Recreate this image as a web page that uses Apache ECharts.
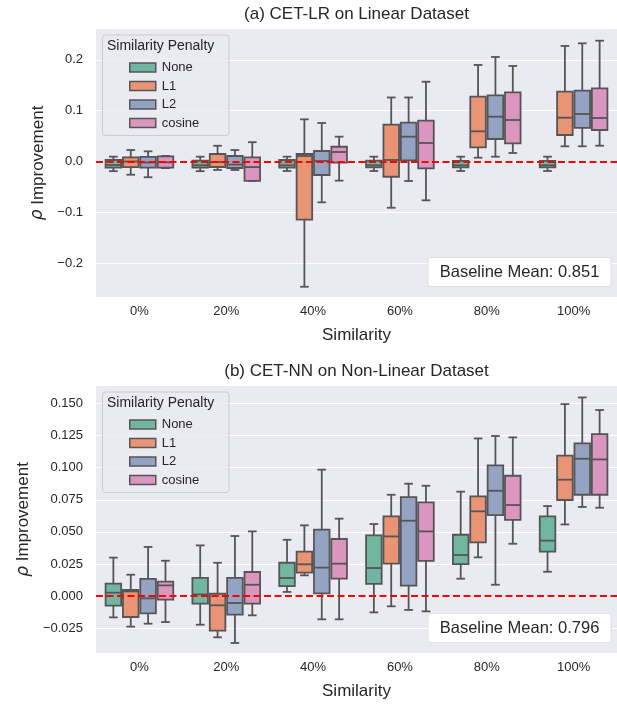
<!DOCTYPE html>
<html><head><meta charset="utf-8">
<script src="https://cdn.jsdelivr.net/npm/echarts@6/dist/echarts.min.js"></script>
<style>html,body{margin:0;padding:0;background:#fff}#c{width:617px;height:704px}</style>
</head><body><div id="c"></div>
<script>
// ---------- data ----------
const categories = ['0%', '20%', '40%', '60%', '80%', '100%'];
const penalties = ['None', 'L1', 'L2', 'cosine'];
// each box: [low whisker, q1, median, q3, high whisker]
// (a) CET-LR on Linear Dataset
const lrNone = [[-0.019,-0.012,-0.007,0.003,0.0095],[-0.019,-0.012,-0.0075,0.0016,0.0095],[-0.0187,-0.012,-0.0075,0.003,0.0095],[-0.0187,-0.0115,-0.0075,0.0016,0.0095],[-0.0187,-0.0115,-0.0075,0.0013,0.0095],[-0.0187,-0.0115,-0.0075,0.0013,0.0095]];
const lrL1 = [[-0.026,-0.011,0.0,0.008,0.0226],[-0.0167,-0.0108,-0.001,0.0148,0.031],[-0.2465,-0.1145,0.0108,0.0148,0.083],[-0.091,-0.030,0.003,0.0725,0.126],[0.0075,0.0279,0.0594,0.1276,0.19],[0.0299,0.0522,0.0862,0.1374,0.2274]];
const lrL2 = [[-0.031,-0.012,-0.002,0.009,0.020],[-0.0167,-0.0128,-0.006,0.0108,0.0226],[-0.0804,-0.0266,0.001,0.0207,0.0758],[-0.0384,0.0023,0.0489,0.0764,0.126],[0.0095,0.0443,0.0882,0.1302,0.2057],[0.0299,0.066,0.0935,0.1394,0.2326]];
const lrCos = [[-0.013,-0.012,-0.0016,0.010,0.011],[-0.038,-0.038,-0.011,0.008,0.038],[-0.0377,-0.0023,0.0187,0.029,0.0489],[-0.0764,-0.0134,0.0364,0.0803,0.157],[0.0167,0.0358,0.0817,0.136,0.188],[0.0311,0.062,0.0856,0.144,0.2378]];
// (b) CET-NN on Non-Linear Dataset
const nnNone = [[-0.0165,-0.0074,0.0027,0.0097,0.030],[-0.0222,-0.0058,0.0014,0.0142,0.0395],[0.0033,0.0079,0.0141,0.026,0.0439],[-0.0126,0.0095,0.0219,0.0473,0.0561],[0.0136,0.025,0.032,0.0478,0.0813],[0.019,0.0346,0.0432,0.0621,0.0701]];
const nnL1 = [[-0.0237,-0.0162,0.0037,0.0048,0.0167],[-0.032,-0.0268,-0.0071,0.0019,0.026],[0.0162,0.0183,0.0248,0.0346,0.0551],[-0.0079,0.0253,0.0465,0.0621,0.0789],[0.0302,0.0418,0.066,0.0776,0.1227],[0.0558,0.0748,0.0906,0.1093,0.1494]];
const nnL2 = [[-0.0214,-0.0134,-0.0017,0.0134,0.0383],[-0.0364,-0.0144,-0.0053,0.0142,0.0468],[-0.018,0.0022,0.0222,0.0517,0.0984],[-0.0107,0.0082,0.0587,0.0771,0.0875],[0.0089,0.0631,0.082,0.1017,0.1246],[0.0694,0.0789,0.1069,0.1188,0.1546]];
const nnCos = [[-0.0201,-0.0027,0.0084,0.0113,0.0276],[-0.0149,-0.0058,0.0089,0.0188,0.0504],[-0.018,0.0136,0.0253,0.0445,0.0603],[-0.0118,0.0274,0.0504,0.0729,0.0859],[0.0408,0.0593,0.0709,0.0937,0.1235],[0.0688,0.0789,0.1064,0.1261,0.1448]];
const ticksA = [-0.2, -0.1, 0.0, 0.1, 0.2];
const ticksB = [-0.025, 0.0, 0.025, 0.05, 0.075, 0.1, 0.125, 0.15];
const baselineA = 'Baseline Mean: 0.851';
const baselineB = 'Baseline Mean: 0.796';
// ---------- style ----------
const colors = ['#71b6a1', '#e99575', '#95a3c3', '#db96c0'];
const edge = '#555555';
const txt = '#262626';
const FF = 'Liberation Sans, Arial, sans-serif';

function renderFor(h) {
  return function (params, api) {
    const ci = api.value(0);
    const bw = api.size([1, 0])[0];
    const w = bw * 0.8 / 4;
    const cx = api.coord([ci, 0])[0] + (h - 1.5) * w;
    const yLo = api.coord([ci, api.value(1)])[1];
    const yQ1 = api.coord([ci, api.value(2)])[1];
    const yMd = api.coord([ci, api.value(3)])[1];
    const yQ3 = api.coord([ci, api.value(4)])[1];
    const yHi = api.coord([ci, api.value(5)])[1];
    const ls = { stroke: edge, lineWidth: 1.8, fill: null };
    const cw = w * 0.5;
    const bx = cx - w / 2 + 0.9, bwid = w - 1.8;
    return { type: 'group', children: [
      { type: 'line', shape: { x1: cx, y1: yQ3, x2: cx, y2: yHi }, style: ls },
      { type: 'line', shape: { x1: cx, y1: yQ1, x2: cx, y2: yLo }, style: ls },
      { type: 'line', shape: { x1: cx - cw / 2, y1: yHi, x2: cx + cw / 2, y2: yHi }, style: ls },
      { type: 'line', shape: { x1: cx - cw / 2, y1: yLo, x2: cx + cw / 2, y2: yLo }, style: ls },
      { type: 'rect', shape: { x: bx, y: Math.min(yQ1, yQ3), width: bwid, height: Math.abs(yQ1 - yQ3) }, style: { fill: colors[h], stroke: edge, lineWidth: 1.8 } },
      { type: 'line', shape: { x1: bx, y1: yMd, x2: bx + bwid, y2: yMd }, style: ls }
    ]};
  };
}
function toData(arr) { return arr.map((b, i) => [i].concat(b)); }
const redLine = { silent: true, symbol: 'none', label: { show: false }, lineStyle: { color: '#ff0000', type: [7, 3.5], width: 2 }, data: [{ yAxis: 0 }] };

const sets = [[lrNone, lrL1, lrL2, lrCos], [nnNone, nnL1, nnL2, nnCos]];
const series = [];
sets.forEach((set, g) => {
  set.forEach((arr, h) => {
    const s = {
      type: 'custom', name: penalties[h], xAxisIndex: g, yAxisIndex: g,
      renderItem: renderFor(h), data: toData(arr),
      encode: { x: 0, y: [1, 2, 3, 4, 5] },
      itemStyle: { color: colors[h], borderColor: edge, borderWidth: 1.5 }, z: 2
    };
    if (h === 0) s.markLine = redLine;
    series.push(s);
  });
});

function fmt(dec) { return v => (+v).toFixed(dec).replace('-', '\u2212'); }
function yAxis(g, min, max, ticks, dec) {
  return {
    type: 'value', gridIndex: g, min: min, max: max,
    name: '{i|ρ} Improvement', nameLocation: 'middle', nameGap: g === 0 ? 45 : 47,
    nameTextStyle: { color: txt, fontSize: 17, fontFamily: FF, rich: { i: { fontStyle: 'italic', fontSize: 17, fontFamily: 'DejaVu Sans', color: txt } } },
    axisLine: { show: false }, axisTick: { show: false, customValues: ticks },
    axisLabel: { customValues: ticks, formatter: fmt(dec), color: txt, fontSize: 13, fontFamily: FF, margin: 13 },
    splitLine: { show: true, lineStyle: { color: '#ffffff', width: 1.2 } }
  };
}
function xAxis(g) {
  return {
    type: 'category', gridIndex: g, data: categories,
    name: 'Similarity', nameLocation: 'middle', nameGap: 30,
    nameTextStyle: { color: txt, fontSize: 17, fontFamily: FF },
    axisLine: { show: false }, axisTick: { show: false },
    axisLabel: { color: txt, fontSize: 13, fontFamily: FF, margin: 8 },
    splitLine: { show: false }
  };
}
function legend(top) {
  return {
    orient: 'vertical', left: 129, top: top, padding: 0, itemWidth: 26, itemHeight: 9, itemGap: 5.5,
    icon: 'rect', selectedMode: false,
    textStyle: { color: txt, fontSize: 13, fontFamily: FF, padding: [0, 0, 0, 1] },
    data: penalties.map((p, h) => ({ name: p, itemStyle: { color: colors[h], borderColor: edge, borderWidth: 1.5 } }))
  };
}
function legendFrame(y) {
  return [
    { type: 'rect', z: 3, shape: { x: 102.5, y: y, width: 126.5, height: 100.5, r: 3 }, style: { fill: 'rgba(234,234,242,0.8)', stroke: '#cccccc', lineWidth: 1 } },
    { type: 'text', z: 4, x: 107, y: y + 11.5, style: { text: 'Similarity Penalty', fill: txt, font: '14px ' + FF, verticalAlign: 'middle' } }
  ];
}
function baseBox(y, text) {
  return [
    { type: 'rect', z: 3, shape: { x: 428, y: y, width: 183, height: 29, r: 2 }, style: { fill: '#ffffff', stroke: '#e0e0e0', lineWidth: 1 } },
    { type: 'text', z: 4, x: 519.5, y: y + 14.5, style: { text: text, fill: txt, font: '16.5px ' + FF, align: 'center', verticalAlign: 'middle' } }
  ];
}
const graphics = [
  { type: 'text', x: 356.5, y: 14, style: { text: '(a) CET-LR on Linear Dataset', fill: txt, font: '17px ' + FF, align: 'center', verticalAlign: 'middle' } },
  { type: 'text', x: 356.5, y: 371, style: { text: '(b) CET-NN on Non-Linear Dataset', fill: txt, font: '17px ' + FF, align: 'center', verticalAlign: 'middle' } }
].concat(legendFrame(35), legendFrame(392), baseBox(257.5, baselineA), baseBox(613.5, baselineB));

const chart = echarts.init(document.getElementById('c'), null, { renderer: 'canvas' });
chart.setOption({
  animation: false,
  backgroundColor: '#ffffff',
  grid: [
    { left: 96, right: 0, top: 29, height: 268, show: true, backgroundColor: '#eaeaf2', borderWidth: 0 },
    { left: 96, right: 0, top: 386, height: 267, show: true, backgroundColor: '#eaeaf2', borderWidth: 0 }
  ],
  xAxis: [xAxis(0), xAxis(1)],
  yAxis: [yAxis(0, -0.2667, 0.2608, ticksA, 1), yAxis(1, -0.0442, 0.1635, ticksB, 3)],
  legend: [legend(61), legend(418)],
  graphic: graphics,
  series: series
});
</script></body></html>
